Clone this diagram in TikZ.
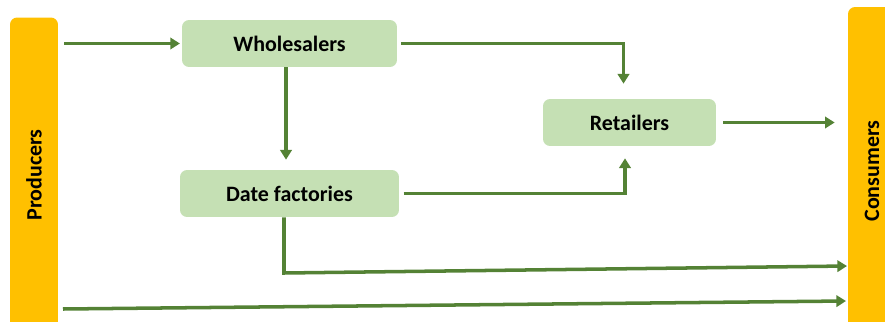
\documentclass[tikz,border=0pt]{standalone}
\usepackage{fontspec}
\setmainfont{Carlito}
\usetikzlibrary{arrows.meta, positioning}

\definecolor{barorange}{HTML}{FFC000}
\definecolor{boxgreen}{HTML}{C5E0B4}
\definecolor{flowgreen}{HTML}{548235}

\begin{document}
\begin{tikzpicture}[x=0.02cm, y=-0.02cm,
    bar/.style={rectangle, rounded corners=4pt, fill=barorange, minimum width=0.96cm, inner sep=0pt, font=\fontsize{12.5}{15}\selectfont\bfseries},
    stage/.style={rectangle, rounded corners=4pt, fill=boxgreen, minimum height=0.94cm, font=\fontsize{12.5}{15}\selectfont\bfseries},
    flow/.style={draw=flowgreen, line width=2pt, -{Triangle[length=5.5pt,width=6.5pt]}}]
                \useasboundingbox (0,0) rectangle (885,321);
                \clip (0,0) rectangle (885,321);
                \node[bar, minimum height=6.3cm](prod) at (34,175){\rotatebox{90}{Producers}};
                \node[bar, minimum height=6.56cm](cons) at (872,171){\rotatebox{90}{Consumers}};
                \node[stage, minimum width=4.3cm](whole) at (289.5,43.5){Wholesalers};
                \node[stage, minimum width=4.38cm](date) at (289.5,193.5){Date factories};
                \node[stage, minimum width=3.46cm](retail) at (629.5,122.5){Retailers};
                \coordinate(dbend) at (284,273);
                \coordinate(dend) at (847,266);
                \coordinate(pstart) at (63,309);
                \coordinate(pend) at (846,301);
                \draw[flow, shorten <=3.5pt, shorten >=1pt] (prod.east |- whole.west) -- (whole.west);
                \draw[flow, shorten <=2pt, shorten >=0.3cm] (whole.east) -| ([xshift=-0.12cm]retail.north);
                \draw[flow, shorten >=0.2cm] ([xshift=-0.07cm]whole.south) -- ([xshift=-0.07cm]date.north);
                \draw[flow, shorten <=2.5pt, shorten >=0.24cm] (date.east) -| ([xshift=-0.09cm]retail.south);
                \draw[flow, shorten <=4pt, shorten >=0.26cm] (retail.east) -- (retail.east -| cons.west);
                \draw[flow] ([xshift=-0.11cm]date.south) -- (dbend) -- (dend);
                \draw[flow] (pstart) -- (pend);
            \end{tikzpicture}
\end{document}
